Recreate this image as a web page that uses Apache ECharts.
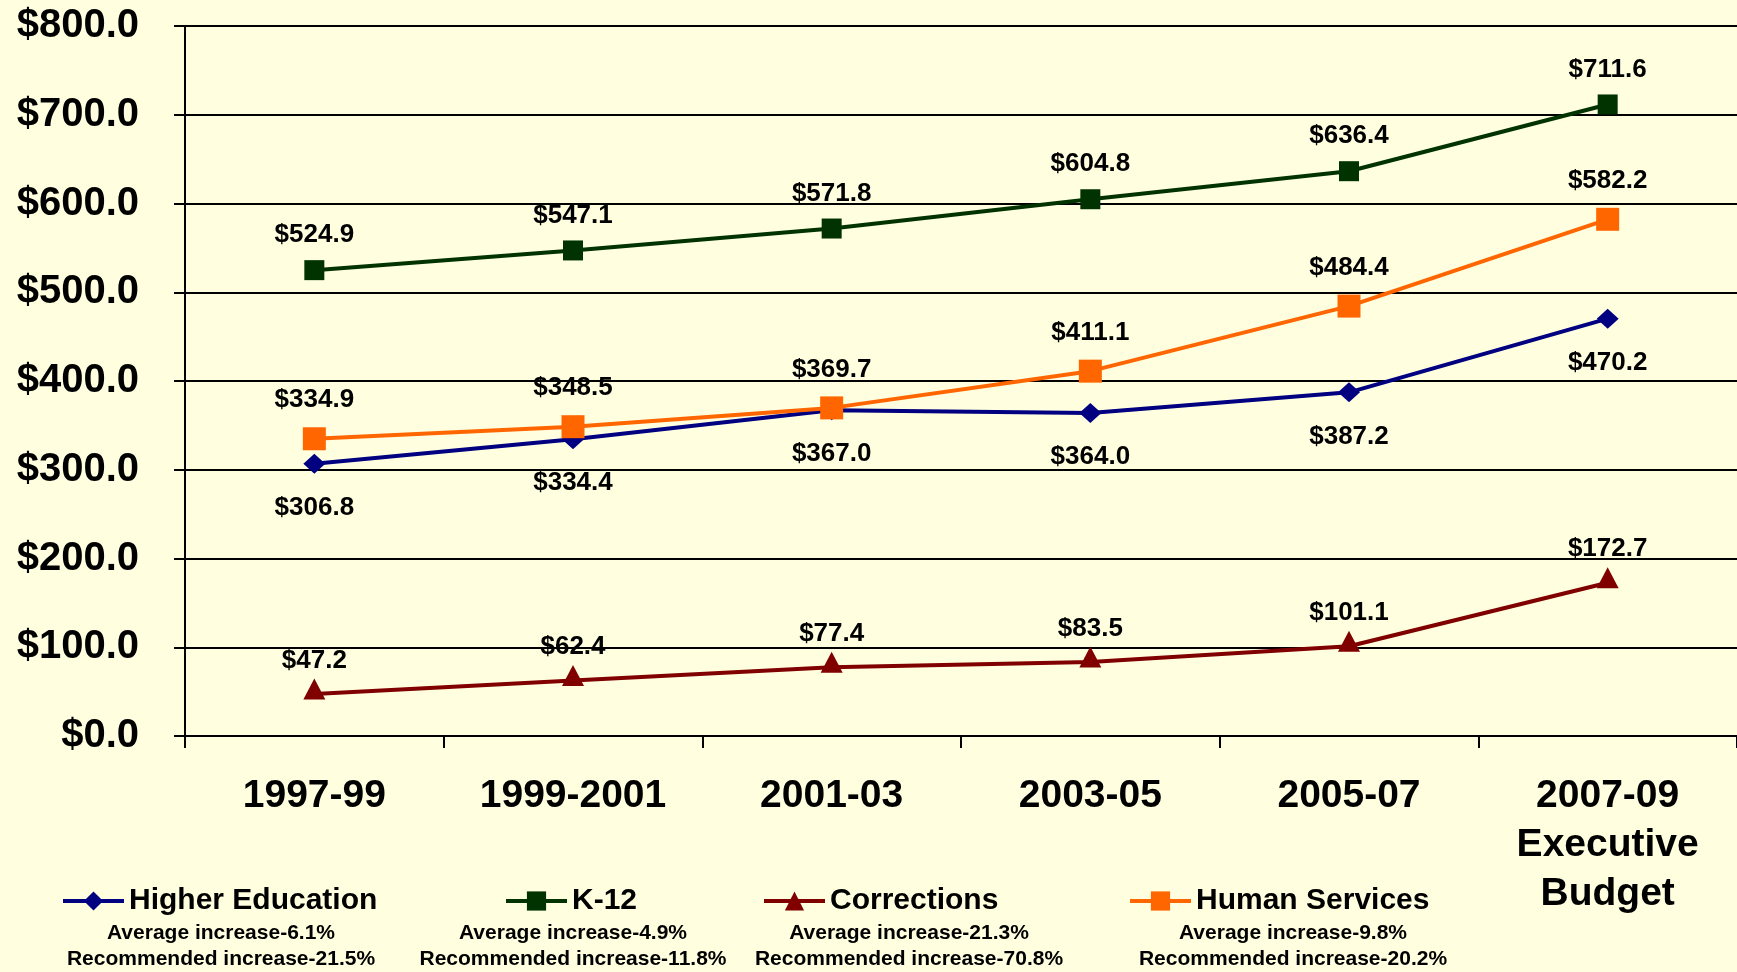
<!DOCTYPE html>
<html>
<head>
<meta charset="utf-8">
<script src="https://cdn.jsdelivr.net/npm/echarts@6/dist/echarts.min.js"></script>
<style>
  html, body { margin: 0; padding: 0; background: #ffffe0; }
  #main { width: 1737px; height: 972px; }
</style>
</head>
<body>
<div id="main"></div>
<script>
// categories (biennium)
var categories = ['1997-99', '1999-2001', '2001-03', '2003-05', '2005-07', '2007-09\nExecutive\nBudget'];

// series values, millions $
var higherEd = [306.8, 334.4, 367.0, 364.0, 387.2, 470.2];
var k12 = [524.9, 547.1, 571.8, 604.8, 636.4, 711.6];
var corrections = [47.2, 62.4, 77.4, 83.5, 101.1, 172.7];
var humanServices = [334.9, 348.5, 369.7, 411.1, 484.4, 582.2];

// legend sub text
var notesHE = ['Average increase-6.1%', 'Recommended increase-21.5%'];
var notesK12 = ['Average increase-4.9%', 'Recommended increase-11.8%'];
var notesCorr = ['Average increase-21.3%', 'Recommended increase-70.8%'];
var notesHS = ['Average increase-9.8%', 'Recommended increase-20.2%'];

var FONT = "'Liberation Sans', Arial, sans-serif";

function money(v) {
    return '$' + Number(v).toFixed(1);
}

function makeSeries(name, data, color, symbol, size, pos, dist, offset) {
    return {
        name: name,
        type: 'line',
        data: data,
        symbol: symbol,
        symbolSize: size,
        symbolOffset: offset || [0, 0],
        lineStyle: { color: color, width: 4 },
        itemStyle: { color: color },
        label: {
            show: true,
            position: pos,
            distance: dist,
            color: '#000',
            fontFamily: FONT,
            fontWeight: 'bold',
            fontSize: 26,
            formatter: function (p) { return money(p.value); }
        },
        emphasis: { disabled: true },
        animation: false
    };
}

function makeLegend(name, left) {
    return {
        data: [name],
        left: left,
        top: 886,
        padding: 0,
        itemWidth: 61,
        itemHeight: 24,
        itemGap: 8,
        lineStyle: { width: 4 },
        textStyle: {
            color: '#000',
            fontFamily: FONT,
            fontWeight: 'bold',
            fontSize: 30
        }
    };
}

function noteText(lines, x) {
    return {
        type: 'text',
        x: x,
        y: 920,
        style: {
            text: lines.join('\n'),
            fill: '#000',
            font: 'bold 21px ' + FONT,
            lineHeight: 26,
            align: 'center',
            verticalAlign: 'top'
        }
    };
}

var chart = echarts.init(document.getElementById('main'));
chart.setOption({
    backgroundColor: '#ffffe0',
    animation: false,
    grid: {
        left: 185,
        right: -5,
        top: 26,
        bottom: 236
    },
    xAxis: {
        type: 'category',
        data: categories,
        boundaryGap: true,
        axisLine: { lineStyle: { color: '#000', width: 2 } },
        axisTick: { show: true, length: 12, lineStyle: { color: '#000', width: 2 } },
        axisLabel: {
            color: '#000',
            fontFamily: FONT,
            fontWeight: 'bold',
            fontSize: 39,
            lineHeight: 49,
            margin: 36
        }
    },
    yAxis: {
        type: 'value',
        min: 0,
        max: 800,
        interval: 100,
        axisLine: { show: true, lineStyle: { color: '#000', width: 2 } },
        axisTick: { show: true, length: 11, lineStyle: { color: '#000', width: 2 } },
        splitLine: { lineStyle: { color: '#000', width: 2 } },
        axisLabel: {
            color: '#000',
            fontFamily: FONT,
            fontWeight: 'bold',
            fontSize: 40,
            margin: 46,
            formatter: function (v) { return money(v); }
        }
    },
    legend: [
        makeLegend('Higher Education', 61),
        makeLegend('K-12', 504),
        makeLegend('Corrections', 762),
        makeLegend('Human Services', 1128)
    ],
    graphic: [
        noteText(notesHE, 221),
        noteText(notesK12, 573),
        noteText(notesCorr, 909),
        noteText(notesHS, 1293)
    ],
    series: [
        makeSeries('Higher Education', higherEd, '#000080', 'diamond', [22, 20], 'bottom', 21),
        makeSeries('K-12', k12, '#003300', 'rect', 20, 'top', 12),
        makeSeries('Corrections', corrections, '#800000', 'triangle', [22, 21], 'top', 5, [0, -5]),
        makeSeries('Human Services', humanServices, '#ff6600', 'rect', 23, 'top', 14)
    ]
});
</script>
</body>
</html>
